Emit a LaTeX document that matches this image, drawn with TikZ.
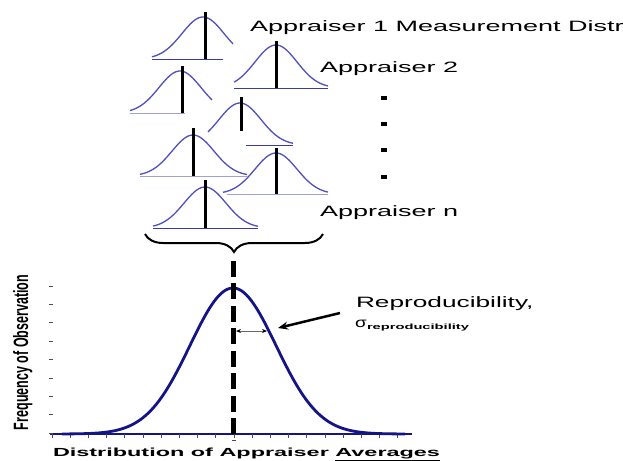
\documentclass[tikz,border=0pt]{standalone}
\usepackage{fontspec}
\usepackage{graphicx}
\newfontfamily\arial{Liberation Sans}
\usetikzlibrary{decorations.pathreplacing,arrows.meta}
\definecolor{navyline}{RGB}{20,20,135}
\definecolor{smallblue}{RGB}{80,80,190}
\definecolor{baselav}{RGB}{160,160,220}
\definecolor{basedark}{RGB}{60,60,160}
\newcommand\gcurve[5]{%
  \draw[smallcurve] plot[domain=#4:#5,samples=60] (\x,{#3-(#3-#2)*exp(-0.5*((\x-#1)/21)^2)});}
\begin{document}
\begin{tikzpicture}[x=1pt,y=-1pt,
  smallcurve/.style={draw=smallblue,line width=1.3pt},
  meanline/.style={draw=black,line width=3pt},
  baselight/.style={draw=baselav,line width=0.9pt},
  basestrong/.style={draw=basedark,line width=0.9pt},
  bigcurve/.style={draw=navyline,line width=2.8pt},
  axisline/.style={draw=navyline,line width=2pt},
  tickmark/.style={draw=black!70,line width=0.8pt},
  dotbox/.style={fill=black,inner sep=0pt,minimum width=6pt,minimum height=4pt},
  lbl/.style={inner sep=0pt,outer sep=0pt}]
\useasboundingbox (0,0) rectangle (623,460);
\clip (0,0) rectangle (623,460);
\fill[white] (0,0) rectangle (623,460);

% small distributions
\draw[basestrong] (152,59) -- (223,59);
\gcurve{203}{17}{59}{152}{233}
\draw[meanline] (205,12) -- (205,59);

\draw[basestrong] (234,88) -- (328,88);
\gcurve{276}{45}{88}{234}{328}
\draw[meanline] (276,41) -- (276,88);

\draw[baselight] (130,113) -- (185,113);
\gcurve{180}{71}{113}{130}{212}
\draw[meanline] (182,66) -- (182,113);

\draw[basestrong] (246,145) -- (293,145);
\gcurve{240}{103}{145}{208}{293}
\draw[meanline] (241,97) -- (241,131);

\draw[baselight] (140,176) -- (247,176);
\gcurve{193}{135}{176}{140}{247}
\draw[meanline] (193,128) -- (193,176);

\draw[baselight] (227,194) -- (328,194);
\gcurve{276}{153}{194}{223}{328}
\draw[meanline] (276,148) -- (276,194);

\draw[basestrong] (153,228) -- (258,228);
\gcurve{205}{187}{228}{153}{258}
\draw[meanline] (205,180) -- (205,228);

% labels top
\node[lbl,anchor=base west] (app1) at (250,32) {\scalebox{1.8}[1]{\fontsize{15}{15}\arial Appraiser 1 Measurement Distr}};
\node[lbl,anchor=base west] (app2) at (320,72) {\scalebox{1.8}[1]{\fontsize{15}{15}\arial Appraiser 2}};
\node[lbl,anchor=base west] (appn) at (320,216) {\scalebox{1.8}[1]{\fontsize{15}{15}\arial Appraiser n}};
\node[dotbox] (d1) at (384,98) {};
\node[dotbox] (d2) at (384,124) {};
\node[dotbox] (d3) at (384,150) {};
\node[dotbox] (d4) at (384,177) {};

% brace
\draw[line width=2pt,decorate,decoration={brace,mirror,amplitude=18pt}] (145,234) -- (323,234);

% axes
\draw[axisline] (50,434) -- (412,434);
\foreach \k in {0,...,19} \draw[tickmark] ({52+\k*18.2},434) -- ({52+\k*18.2},437.5);
\foreach \k in {0,...,8} \draw[tickmark] (48.5,{286+\k*18.4}) -- (53,{286+\k*18.4});
\draw[tickmark] (232,440.5) -- (236,440.5);

% big curve
\draw[bigcurve] plot[domain=62:405,samples=150] (\x,{434-146*exp(-0.5*((\x-233)/43)^2)});

% dashed mean
\draw[line width=5pt,dash pattern=on 16pt off 6.5pt] (233,434) -- (233,258);

% sigma arrow
\coordinate (sL) at (236,331);
\coordinate (sR) at (267,331);
\draw[draw=black!60,line width=0.9pt,{Stealth[length=5pt,width=4pt,black]}-{Stealth[length=5pt,width=4pt,black]}] (sL) -- (sR);

% reproducibility label and arrow
\node[lbl,anchor=base west] (repro) at (356,307) {\scalebox{1.75}[1]{\fontsize{15}{15}\arial Reproducibility,}};
\node[lbl,anchor=base west] (sig) at (355,327.5) {\scalebox{1.35}[1]{\fontsize{14}{14}\arial σ}};
\node[lbl,anchor=base west] (sub) at (367,329) {\resizebox{102pt}{5.5pt}{\arial\bfseries reproducibility}};
\coordinate (arrS) at (340,313);
\coordinate (arrE) at (278,328);
\draw[line width=2.5pt,-{Stealth[length=10pt,width=8pt]}] (arrS) -- (arrE);

% axis labels
\node[lbl,anchor=base west] (xl) at (53,456) {\resizebox{387pt}{8.5pt}{\arial\bfseries Distribution of Appraiser \underline{Averages}}};
\node[lbl,anchor=base west,rotate=90] (yl) at (28,430) {\resizebox{155pt}{15pt}{\arial\bfseries Frequency of Observation}};
\end{tikzpicture}
\end{document}
